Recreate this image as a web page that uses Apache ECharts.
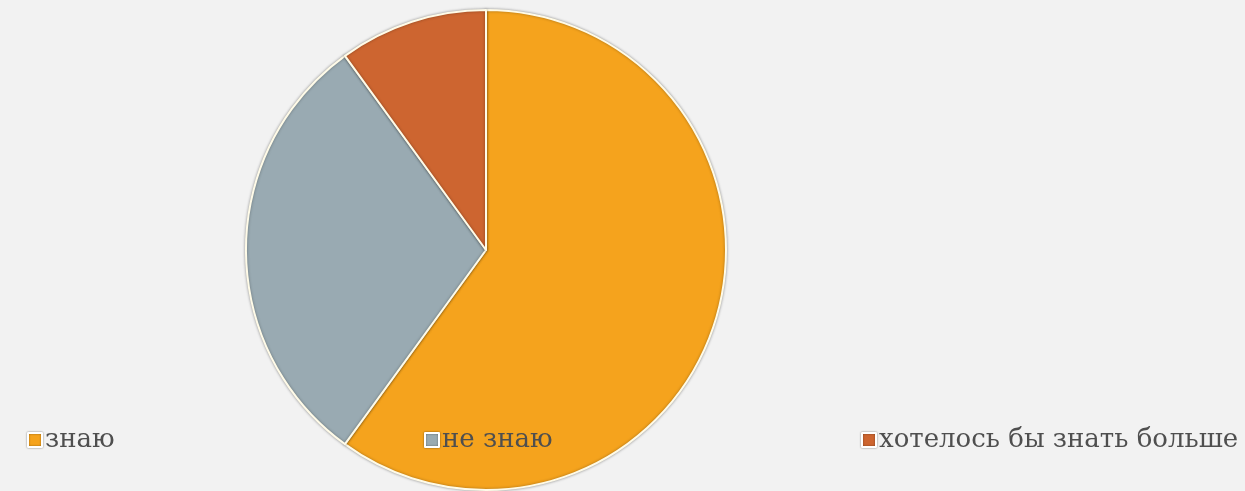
<!DOCTYPE html>
<html>
<head>
<meta charset="utf-8">
<script src="https://cdn.jsdelivr.net/npm/echarts@6/dist/echarts.min.js"></script>
<style>
  html, body { margin: 0; padding: 0; background: #f2f2f2; }
  #chart { width: 1245px; height: 491px; }
</style>
</head>
<body>
<div id="chart"></div>
<script>
  const categories = ['знаю', 'не знаю', 'хотелось бы знать больше']
  const values = [60, 30, 10]
  const colors = ['#f5a31d', '#99aab2', '#cd6530']

  const chart = echarts.init(document.getElementById('chart'))
  const legendBase = {
    top: 422,
    icon: 'rect',
    itemWidth: 14,
    itemHeight: 14,
    itemGap: 0,
    selectedMode: false,
    itemStyle: { borderColor: '#fff', borderWidth: 2, shadowColor: 'rgba(0,0,0,0.45)', shadowBlur: 2 },
    textStyle: { fontFamily: 'DejaVu Serif', fontSize: 26, color: '#4f4f4f', padding: [0, 0, 0, -2] },
  }
  const legendLefts = [22, 419, 856]

  chart.setOption({
    backgroundColor: '#f2f2f2',
    color: colors,
    legend: categories.map((name, i) => Object.assign({}, legendBase, { left: legendLefts[i], data: [name] })),
    series: [
      {
        type: 'pie',
        center: [486, 250],
        radius: 240,
        startAngle: 90,
        clockwise: true,
        silent: true,
        label: { show: false },
        labelLine: { show: false },
        itemStyle: {
          borderColor: '#fffbe8',
          borderWidth: 2,
          shadowColor: 'rgba(0,0,0,0.35)',
          shadowBlur: 3,
        },
        data: categories.map((name, i) => ({ name: name, value: values[i] })),
      },
    ],
  })
</script>
</body>
</html>
